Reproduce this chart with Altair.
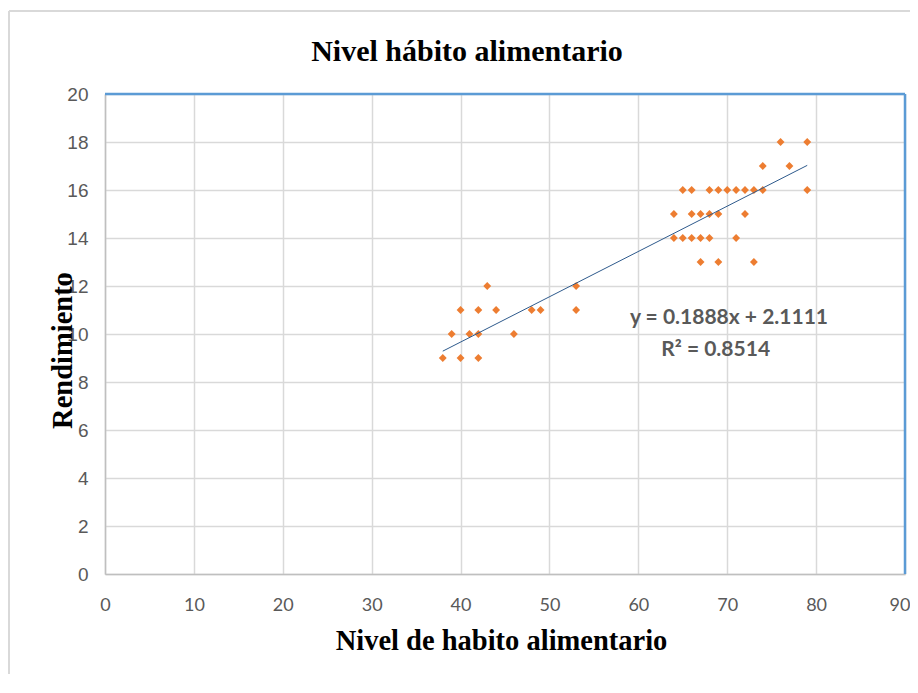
import altair as alt
import pandas as pd

# Data
hab = [43, 53,
       40, 42, 44, 48, 49, 53,
       39, 41, 42, 46,
       38, 40, 42,
       76, 79,
       74, 77,
       65, 66, 68, 69, 70, 71, 72, 73, 74, 79,
       64, 66, 67, 68, 69, 72,
       64, 65, 66, 67, 68, 71,
       67, 69, 73]
rend = [12, 12,
        11, 11, 11, 11, 11, 11,
        10, 10, 10, 10,
        9, 9, 9,
        18, 18,
        17, 17,
        16, 16, 16, 16, 16, 16, 16, 16, 16, 16,
        15, 15, 15, 15, 15, 15,
        14, 14, 14, 14, 14, 14,
        13, 13, 13]

slope = 0.1888
intercept = 2.1111
trend_x = [38, 79]
eq_lines = ["y = 0.1888x + 2.1111", "R² = 0.8514"]
eq_x = [70.2, 68.7]
eq_y = [10.67, 9.33]

x_ticks = list(range(0, 91, 10))
y_ticks = list(range(0, 21, 2))

chart_title = "Nivel hábito alimentario"

W, H = 800, 480

pts = pd.DataFrame({"x": hab, "y": rend})
trend = pd.DataFrame({"x": trend_x, "y": [slope * v + intercept for v in trend_x]})
eq = pd.DataFrame({"x": eq_x, "y": eq_y, "t": eq_lines})

xscale = alt.Scale(domain=[0, 90], nice=False, zero=False)
yscale = alt.Scale(domain=[0, 20], nice=False, zero=False)

xaxis = alt.Axis(values=x_ticks, title="Nivel de habito alimentario", grid=True,
                 gridColor="#d9d9d9", gridWidth=1.5, domainColor="#bfbfbf", domainWidth=1.5,
                 ticks=False, labelFont="Lato", labelFontSize=18, labelColor="#595959",
                 labelPadding=22, titleFont="Liberation Serif", titleFontSize=28.5,
                 titleFontWeight="bold", titleColor="#000000", titleY=66, titleX=396,
                 titleBaseline="middle", titleAlign="center", labelFlush=False,
                 labelAlign=alt.ExprRef("datum.value == 90 ? 'right' : 'center'"),
                 labelOffset=alt.ExprRef("datum.value == 90 ? 5 : 0"))
yaxis = alt.Axis(values=y_ticks, title="Rendimiento", grid=True,
                 gridColor="#d9d9d9", gridWidth=1.5, domainColor="#bfbfbf", domainWidth=1.5,
                 ticks=False, labelFont="Liberation Sans", labelFontSize=19, labelColor="#595959",
                 labelPadding=17, titleFont="Liberation Serif", titleFontSize=28.5,
                 titleFontWeight="bold", titleColor="#000000", titleX=-43, titleY=256,
                 titleAlign="center", titleBaseline="middle", labelFlush=False)

points = alt.Chart(pts).mark_point(shape="diamond", filled=True, size=62, color="#ed7d31", opacity=1).encode(
    x=alt.X("x:Q", scale=xscale, axis=xaxis),
    y=alt.Y("y:Q", scale=yscale, axis=yaxis),
)

line = alt.Chart(trend).mark_line(color="#2e5a8c", strokeWidth=1).encode(
    x=alt.X("x:Q", scale=xscale),
    y=alt.Y("y:Q", scale=yscale),
)

text = alt.Chart(eq).mark_text(font="Lato", fontSize=21, fontWeight="bold", color="#595959",
                                 align="center", baseline="middle").encode(
    x=alt.X("x:Q", scale=xscale),
    y=alt.Y("y:Q", scale=yscale),
    text="t:N",
)

frame_df = pd.DataFrame({"k": [0]})
title_df = pd.DataFrame({"t": [chart_title]})
title_mark = alt.Chart(title_df).mark_text(font="Liberation Serif", fontSize=30, fontWeight="bold",
                                           color="#000000", align="center", baseline="middle").encode(
    x=alt.value(362), y=alt.value(-42), text="t:N")

top_edge = alt.Chart(frame_df).mark_rule(color="#5b9bd5", strokeWidth=2.5).encode(
    x=alt.value(0), x2=alt.value(W), y=alt.value(0))
right_edge = alt.Chart(frame_df).mark_rule(color="#5b9bd5", strokeWidth=2.5).encode(
    x=alt.value(W), y=alt.value(0), y2=alt.value(H))
outer_left = alt.Chart(frame_df).mark_rule(color="#d9d9d9", strokeWidth=2).encode(
    x=alt.value(-96), y=alt.value(-83), y2=alt.value(600))
outer_top = alt.Chart(frame_df).mark_rule(color="#d9d9d9", strokeWidth=2).encode(
    x=alt.value(-96), x2=alt.value(W + 20), y=alt.value(-83))

chart = alt.layer(outer_left, outer_top, points, line, text, top_edge, right_edge, title_mark).properties(
    width=W, height=H,
    autosize=alt.AutoSizeParams(type="none"),
    padding={"left": 97, "top": 86, "right": 5, "bottom": 100},
).configure_view(stroke=None).configure(background="#ffffff")

chart.save("out.html", embed_options={"renderer": "svg", "actions": False})
